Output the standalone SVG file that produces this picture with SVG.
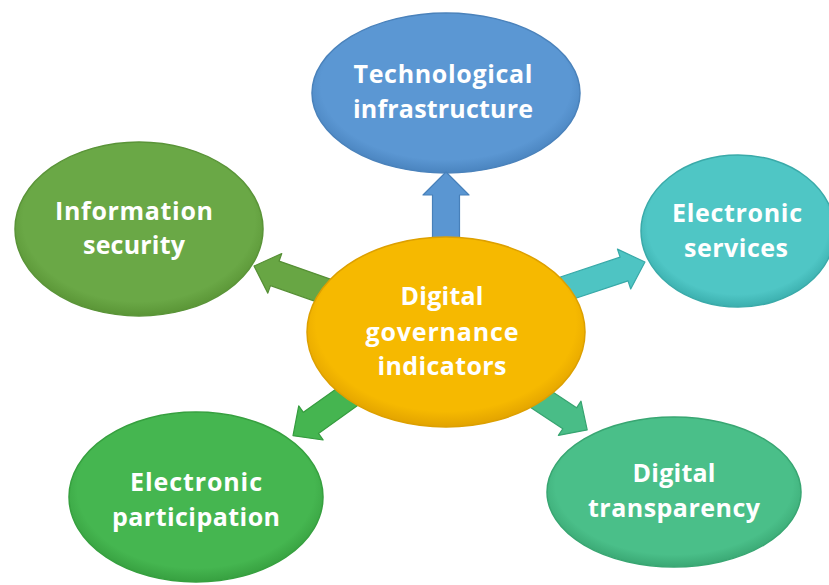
<svg xmlns="http://www.w3.org/2000/svg" width="829" height="585" viewBox="0 0 829 585">
<defs>
<radialGradient id="gBlue" cx="50%" cy="45%" r="55%"><stop offset="85%" stop-color="#5B97D3"/><stop offset="100%" stop-color="#4A84BF"/></radialGradient>
<radialGradient id="gTeal" cx="50%" cy="45%" r="55%"><stop offset="85%" stop-color="#4FC6C5"/><stop offset="100%" stop-color="#3BAFAE"/></radialGradient>
<radialGradient id="gLeaf" cx="50%" cy="45%" r="55%"><stop offset="85%" stop-color="#6AA846"/><stop offset="100%" stop-color="#5A9536"/></radialGradient>
<radialGradient id="gGreen" cx="50%" cy="45%" r="55%"><stop offset="85%" stop-color="#45B650"/><stop offset="100%" stop-color="#37A040"/></radialGradient>
<radialGradient id="gMint" cx="50%" cy="45%" r="55%"><stop offset="85%" stop-color="#4ABF89"/><stop offset="100%" stop-color="#3AA874"/></radialGradient>
<radialGradient id="gGold" cx="50%" cy="45%" r="55%"><stop offset="85%" stop-color="#F6B900"/><stop offset="100%" stop-color="#E2A300"/></radialGradient>
</defs>
<style>
.t{font-family:"Open Sans","Liberation Sans",Arial,sans-serif;font-weight:bold;font-size:25px;fill:#FFFFFF;text-anchor:middle}
.a{stroke-width:1.2;stroke-linejoin:round}
</style>
<g id="node-infrastructure">
<ellipse cx="446" cy="93" rx="134" ry="80" fill="url(#gBlue)" stroke="#4A82BB" stroke-width="1.5"/>
<text class="t" x="443" y="83" textLength="179">Technological</text>
<text class="t" x="443" y="118" textLength="180">infrastructure</text>
</g>
<g id="node-security">
<ellipse cx="139" cy="229" rx="124" ry="87" fill="url(#gLeaf)" stroke="#5A9438" stroke-width="1.5"/>
<text class="t" x="134" y="220" textLength="158">Information</text>
<text class="t" x="134" y="254" textLength="102">security</text>
</g>
<g id="node-services">
<ellipse cx="738" cy="231" rx="97" ry="76" fill="url(#gTeal)" stroke="#3AAAA9" stroke-width="1.5"/>
<text class="t" x="737" y="222" textLength="130">Electronic</text>
<text class="t" x="736" y="257" textLength="104">services</text>
</g>
<g id="node-participation">
<ellipse cx="196" cy="497" rx="127" ry="85" fill="url(#gGreen)" stroke="#36A03F" stroke-width="1.5"/>
<text class="t" x="196" y="491" textLength="132">Electronic</text>
<text class="t" x="196" y="526" textLength="168">participation</text>
</g>
<g id="node-transparency">
<ellipse cx="674" cy="492" rx="127" ry="75" fill="url(#gMint)" stroke="#38A672" stroke-width="1.5"/>
<text class="t" x="674" y="482" textLength="83">Digital</text>
<text class="t" x="674" y="517" textLength="172">transparency</text>
</g>
<g id="connectors">
<polygon class="a" transform="translate(446,248) rotate(-90)" points="0,-13.5 53,-13.5 53,-23 76,0 53,23 53,13.5 0,13.5" fill="#5A96D2" stroke="#4780BA"/>
<polygon class="a" transform="translate(329.5,292.6) rotate(199.4)" points="0,-13 58,-13 58,-21 80,0 58,21 58,13 0,13" fill="#68A644" stroke="#568F35"/>
<polygon class="a" transform="translate(564.3,288.9) rotate(-18.4)" points="0,-12.5 63,-12.5 63,-21 85,0 63,21 63,12.5 0,12.5" fill="#4EC4C3" stroke="#38A9A8"/>
<polygon class="a" transform="translate(350,395) rotate(144.5)" points="0,-13 48,-13 48,-21 70,0 48,21 48,13 0,13" fill="#45B550" stroke="#359C3E"/>
<polygon class="a" transform="translate(533,394) rotate(33.5)" points="0,-12.5 44,-12.5 44,-20.5 65,0 44,20.5 44,12.5 0,12.5" fill="#49BD87" stroke="#36A470"/>
</g>
<g id="node-center">
<ellipse cx="446" cy="332" rx="139" ry="95" fill="url(#gGold)" stroke="#DDA000" stroke-width="1.5"/>
<text class="t" x="442" y="305" textLength="83">Digital</text>
<text class="t" x="442" y="341" textLength="153">governance</text>
<text class="t" x="442" y="375" textLength="129">indicators</text>
</g>
</svg>
